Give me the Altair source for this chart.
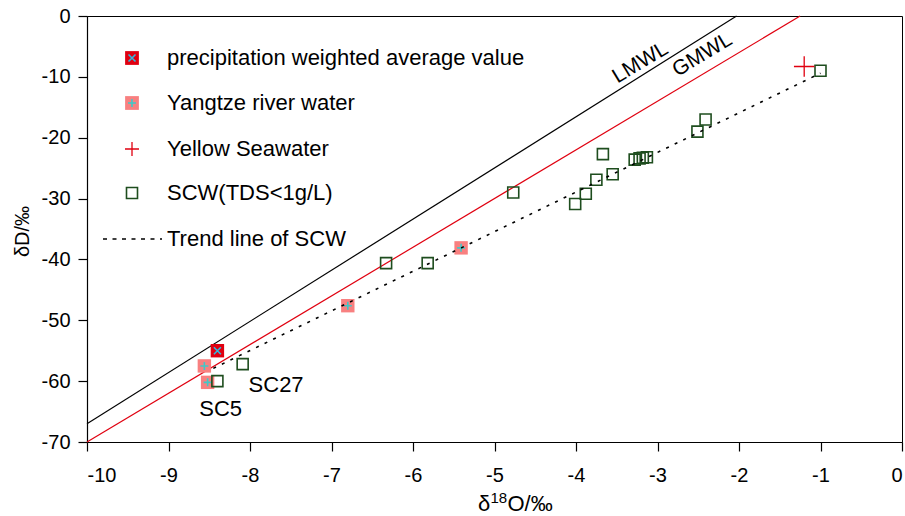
import altair as alt
import pandas as pd

FONT = "Liberation Sans"

# ---------------- data ----------------
precip_x = [-8.40]
precip_y = [-55.0]

yangtze_x = [-8.56, -8.52, -6.80, -5.41]
yangtze_y = [-57.5, -60.2, -47.6, -38.1]

sea_x = [-1.20]
sea_y = [-8.3]

scw_x = [-8.40, -8.09, -6.33, -5.82, -4.77, -4.01, -3.88, -3.75, -3.67, -3.55,
         -3.28, -3.22, -3.18, -3.13, -2.51, -2.41, -1.00]
scw_y = [-60.0, -57.2, -40.6, -40.6, -29.0, -30.9, -29.2, -26.9, -22.7, -26.0,
         -23.6, -23.4, -23.3, -23.2, -19.0, -17.0, -9.0]

trend_x = [-8.45, -1.0]
trend_y = [-57.9, -9.4]

lmwl_x = [-10.0, -2.03]
lmwl_y = [-67.0, 0.0]
gmwl_x = [-10.0, -1.25]
gmwl_y = [-70.0, 0.0]

x_ticks = list(range(-10, 1))
y_ticks = list(range(-70, 1, 10))

sample_labels = ["SC27", "SC5"]
sample_lx = [-7.68, -8.36]
sample_ly = [-60.6, -64.6]

line_labels = ["LMWL", "GMWL"]
line_lx = [-3.21, -2.45]
line_ly = [-7.7, -6.4]

legend_labels = ["precipitation weighted average value", "Yangtze river water",
                 "Yellow Seawater", "SCW(TDS<1g/L)", "Trend line of SCW"]

x_title_parts = ["δ", "18", "O/‰"]
y_title = "δD/‰"

# ---------------- helpers ----------------
XSHAPE = "M-1,-1L1,1M-1,1L1,-1"
PLUS = "M-1,0L1,0M0,-1L0,1"

RED = "#e00010"
PINK = "#f88080"
CYAN = "#30b8e0"
TEAL = "#40c8c8"
GREEN = "#1e4d1e"


def df(xs, ys):
    return pd.DataFrame({"x": xs, "y": ys})


xaxis = alt.Axis(values=x_ticks, labelExpr="'' + datum.value", title=None,
                 labelPadding=14)
yaxis = alt.Axis(values=y_ticks, labelExpr="'' + datum.value", title=y_title,
                 labelPadding=8, titleX=-65, titleY=215, titleAngle=270,
                 titleBaseline="middle", titleFontSize=20)

X = alt.X("x:Q", scale=alt.Scale(domain=[-10, 0], nice=False, zero=False), axis=xaxis)
Y = alt.Y("y:Q", scale=alt.Scale(domain=[-70, 0], nice=False, zero=False), axis=yaxis)

lmwl = alt.Chart(df(lmwl_x, lmwl_y)).mark_line(color="black", strokeWidth=1.2).encode(x=X, y=Y)
gmwl = alt.Chart(df(gmwl_x, gmwl_y)).mark_line(color=RED, strokeWidth=1.2).encode(x=X, y=Y)

yz_sq = alt.Chart(df(yangtze_x, yangtze_y)).mark_point(
    shape="square", filled=True, color=PINK, size=180, opacity=1).encode(x=X, y=Y)
yz_plus = alt.Chart(df(yangtze_x, yangtze_y)).mark_point(
    shape=PLUS, filled=False, color=TEAL, size=64, strokeWidth=1.6, opacity=1).encode(x=X, y=Y)

pr_sq = alt.Chart(df(precip_x, precip_y)).mark_point(
    shape="square", filled=True, color=RED, size=180, opacity=1).encode(x=X, y=Y)
pr_x = alt.Chart(df(precip_x, precip_y)).mark_point(
    shape=XSHAPE, filled=False, color=CYAN, size=49, strokeWidth=1.6, opacity=1).encode(x=X, y=Y)

scw = alt.Chart(df(scw_x, scw_y)).mark_point(
    shape="square", filled=False, color=GREEN, size=121, strokeWidth=1.6, opacity=1).encode(x=X, y=Y)

sea = alt.Chart(df(sea_x, sea_y)).mark_point(
    shape=PLUS, filled=False, color=RED, size=420, strokeWidth=1.3, opacity=1).encode(x=X, y=Y)

trend = alt.Chart(df(trend_x, trend_y)).mark_line(
    color="black", strokeWidth=1.6, strokeDash=[3, 6.5]).encode(x=X, y=Y)

samp = alt.Chart(pd.DataFrame({"x": sample_lx, "y": sample_ly, "t": sample_labels})).mark_text(
    font=FONT, fontSize=22, color="black", align="center", baseline="middle").encode(x=X, y=Y, text="t:N")

lines_txt = alt.Chart(pd.DataFrame({"x": line_lx, "y": line_ly, "t": line_labels})).mark_text(
    font=FONT, fontSize=21, color="black", align="center", baseline="middle", angle=329).encode(
    x=X, y=Y, text="t:N")

# ---------------- legend and x title (drawn, view-relative pixels) ----------------
one = alt.Data(values=[{}])
LX = 45
TX = 80
rows = [42, 87, 133, 177, 223]

leg = []
leg.append(alt.Chart(one).mark_point(shape="square", filled=True, color=RED, size=190, opacity=1)
           .encode(x=alt.value(LX), y=alt.value(rows[0])))
leg.append(alt.Chart(one).mark_point(shape=XSHAPE, filled=False, color=CYAN, size=49, strokeWidth=1.6, opacity=1)
           .encode(x=alt.value(LX), y=alt.value(rows[0])))
leg.append(alt.Chart(one).mark_point(shape="square", filled=True, color=PINK, size=190, opacity=1)
           .encode(x=alt.value(LX), y=alt.value(rows[1])))
leg.append(alt.Chart(one).mark_point(shape=PLUS, filled=False, color=TEAL, size=64, strokeWidth=1.6, opacity=1)
           .encode(x=alt.value(LX), y=alt.value(rows[1])))
leg.append(alt.Chart(one).mark_point(shape=PLUS, filled=False, color=RED, size=196, strokeWidth=1.3, opacity=1)
           .encode(x=alt.value(LX), y=alt.value(rows[2])))
leg.append(alt.Chart(one).mark_point(shape="square", filled=False, color=GREEN, size=121, strokeWidth=1.6, opacity=1)
           .encode(x=alt.value(LX), y=alt.value(rows[3])))
leg.append(alt.Chart(one).mark_rule(color="black", strokeWidth=1.6, strokeDash=[4, 5.5])
           .encode(x=alt.value(16), x2=alt.value(75), y=alt.value(rows[4])))
for lab, ry in zip(legend_labels, rows):
    leg.append(alt.Chart(one).mark_text(font=FONT, fontSize=22, color="black", align="left", baseline="middle")
               .encode(x=alt.value(TX), y=alt.value(ry), text=alt.value(lab)))

xt = [
    alt.Chart(one).mark_text(font=FONT, fontSize=22, color="black", align="left", baseline="alphabetic")
    .encode(x=alt.value(391), y=alt.value(495), text=alt.value(x_title_parts[0])),
    alt.Chart(one).mark_text(font=FONT, fontSize=15, color="black", align="left", baseline="alphabetic")
    .encode(x=alt.value(403.5), y=alt.value(487), text=alt.value(x_title_parts[1])),
    alt.Chart(one).mark_text(font=FONT, fontSize=22, color="black", align="left", baseline="alphabetic")
    .encode(x=alt.value(420.5), y=alt.value(495), text=alt.value(x_title_parts[2])),
]

chart = alt.layer(
    lmwl, gmwl, yz_sq, yz_plus, pr_sq, pr_x, scw, sea, trend, samp, lines_txt, *leg, *xt
).properties(
    width=815, height=426,
    autosize=alt.AutoSizeParams(type="none"),
    padding={"left": 87, "top": 16, "right": 3, "bottom": 74},
).configure_view(
    stroke="black", strokeWidth=1
).configure_axis(
    domainColor="black", domainWidth=1.2, tickColor="black", tickSize=9, tickWidth=1.2,
    labelColor="black", labelFont=FONT, labelFontSize=20,
    titleFont=FONT, titleFontSize=20, titleColor="black", titleFontWeight="normal",
    grid=False,
)

chart.save("out.html", embed_options={"renderer": "svg", "actions": False})
